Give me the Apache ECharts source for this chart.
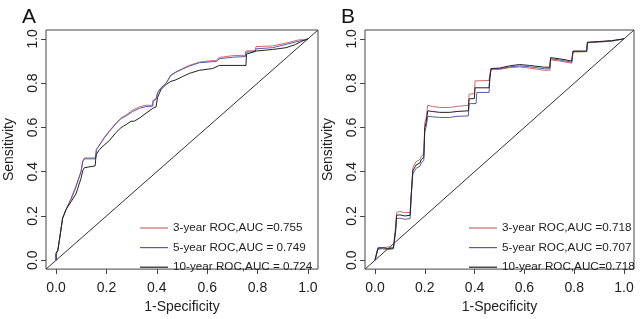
<!DOCTYPE html>
<html>
<head>
<meta charset="utf-8">
<script src="https://cdn.jsdelivr.net/npm/echarts@6/dist/echarts.min.js"></script>
<style>html,body{margin:0;padding:0;background:#fff}#c{width:640px;height:319px}</style>
</head>
<body>
<div id="c"></div>
<script>
// ---------- data ----------
const tickValues = [0, 0.2, 0.4, 0.6, 0.8, 1.0];
const tickLabels = ['0.0', '0.2', '0.4', '0.6', '0.8', '1.0'];
const diagonal = [[-0.04, -0.04], [1.04, 1.04]];

const namesA = ['3-year ROC,AUC =0.755', '5-year ROC,AUC = 0.749', '10-year ROC,AUC = 0.724'];
const namesB = ['3-year ROC,AUC =0.718', '5-year ROC,AUC =0.707', '10-year ROC,AUC=0.718'];

const rocA3 = [[0,0],[0,0.03],[0.007,0.045],[0.013,0.09],[0.026,0.19],[0.04,0.23],[0.06,0.275],[0.079,0.33],[0.099,0.40],[0.106,0.45],[0.112,0.462],[0.155,0.462],[0.159,0.47],[0.16,0.50],[0.172,0.52],[0.192,0.556],[0.212,0.585],[0.238,0.62],[0.258,0.642],[0.278,0.656],[0.304,0.678],[0.331,0.693],[0.357,0.70],[0.384,0.70],[0.385,0.722],[0.397,0.729],[0.403,0.758],[0.417,0.78],[0.437,0.80],[0.456,0.837],[0.476,0.851],[0.503,0.866],[0.529,0.88],[0.569,0.895],[0.622,0.902],[0.635,0.902],[0.648,0.916],[0.701,0.924],[0.752,0.926],[0.754,0.945],[0.79,0.947],[0.794,0.965],[0.86,0.968],[0.913,0.981],[0.966,0.996],[0.986,0.996],[1,1]];
const rocA5 = [[0,0],[0,0.03],[0.007,0.045],[0.013,0.09],[0.026,0.19],[0.04,0.23],[0.06,0.28],[0.079,0.335],[0.099,0.40],[0.106,0.445],[0.112,0.458],[0.155,0.458],[0.159,0.47],[0.16,0.50],[0.172,0.52],[0.192,0.553],[0.212,0.582],[0.238,0.617],[0.258,0.64],[0.278,0.652],[0.304,0.672],[0.331,0.686],[0.357,0.694],[0.384,0.696],[0.385,0.72],[0.397,0.727],[0.403,0.755],[0.417,0.778],[0.437,0.80],[0.456,0.835],[0.476,0.849],[0.503,0.864],[0.529,0.877],[0.569,0.892],[0.622,0.897],[0.635,0.897],[0.648,0.91],[0.701,0.917],[0.752,0.92],[0.754,0.94],[0.79,0.942],[0.794,0.955],[0.86,0.96],[0.913,0.975],[0.966,0.99],[0.986,0.994],[1,1]];
const rocA10 = [[0,0],[0,0.03],[0.007,0.045],[0.013,0.09],[0.026,0.19],[0.04,0.23],[0.06,0.265],[0.079,0.30],[0.099,0.37],[0.106,0.405],[0.112,0.418],[0.155,0.426],[0.159,0.476],[0.172,0.50],[0.19,0.519],[0.212,0.541],[0.238,0.577],[0.258,0.599],[0.278,0.613],[0.298,0.628],[0.31,0.628],[0.331,0.642],[0.357,0.664],[0.384,0.686],[0.397,0.693],[0.403,0.736],[0.417,0.772],[0.437,0.794],[0.456,0.808],[0.476,0.815],[0.503,0.83],[0.529,0.844],[0.569,0.858],[0.622,0.866],[0.648,0.88],[0.74,0.88],[0.754,0.88],[0.756,0.931],[0.794,0.945],[0.86,0.952],[0.913,0.96],[0.95,0.974],[0.975,0.989],[1,1]];

const rocB3 = [[0,0],[0.008,0.005],[0.012,0.058],[0.03,0.055],[0.05,0.06],[0.074,0.058],[0.078,0.1],[0.083,0.15],[0.087,0.216],[0.1,0.22],[0.12,0.215],[0.141,0.216],[0.146,0.3],[0.152,0.418],[0.16,0.42],[0.165,0.445],[0.181,0.455],[0.186,0.47],[0.196,0.48],[0.2,0.62],[0.205,0.64],[0.212,0.70],[0.23,0.695],[0.26,0.69],[0.3,0.69],[0.33,0.695],[0.375,0.70],[0.378,0.75],[0.399,0.752],[0.402,0.81],[0.458,0.812],[0.461,0.84],[0.466,0.862],[0.5,0.862],[0.54,0.87],[0.58,0.873],[0.62,0.868],[0.68,0.858],[0.702,0.858],[0.705,0.905],[0.74,0.9],[0.79,0.89],[0.795,0.94],[0.85,0.942],[0.853,0.982],[0.9,0.985],[0.95,0.99],[1,1]];
const rocB5 = [[0,0],[0.008,0.005],[0.012,0.05],[0.03,0.052],[0.05,0.048],[0.074,0.052],[0.078,0.085],[0.083,0.13],[0.087,0.188],[0.1,0.19],[0.12,0.185],[0.141,0.188],[0.146,0.3],[0.152,0.39],[0.16,0.395],[0.165,0.415],[0.181,0.425],[0.186,0.44],[0.196,0.45],[0.2,0.58],[0.205,0.60],[0.212,0.65],[0.23,0.648],[0.26,0.645],[0.3,0.645],[0.33,0.65],[0.375,0.652],[0.378,0.707],[0.406,0.708],[0.409,0.758],[0.458,0.758],[0.461,0.82],[0.466,0.866],[0.5,0.865],[0.54,0.873],[0.58,0.878],[0.62,0.874],[0.68,0.865],[0.702,0.865],[0.705,0.91],[0.74,0.905],[0.79,0.895],[0.795,0.943],[0.85,0.943],[0.853,0.983],[0.9,0.987],[0.95,0.99],[1,1]];
const rocB10 = [[0,0],[0.008,0.005],[0.012,0.054],[0.03,0.057],[0.05,0.053],[0.074,0.055],[0.078,0.09],[0.083,0.14],[0.087,0.203],[0.1,0.205],[0.12,0.2],[0.141,0.203],[0.146,0.3],[0.152,0.404],[0.16,0.41],[0.165,0.43],[0.181,0.44],[0.186,0.455],[0.196,0.465],[0.2,0.6],[0.205,0.62],[0.212,0.675],[0.23,0.672],[0.26,0.668],[0.3,0.668],[0.33,0.672],[0.375,0.675],[0.378,0.729],[0.399,0.73],[0.402,0.779],[0.458,0.779],[0.461,0.82],[0.466,0.866],[0.5,0.868],[0.54,0.878],[0.58,0.884],[0.62,0.88],[0.68,0.872],[0.702,0.872],[0.705,0.915],[0.74,0.91],[0.79,0.9],[0.795,0.945],[0.85,0.945],[0.853,0.985],[0.9,0.988],[0.95,0.992],[1,1]];

// ---------- styles ----------
const FONT = "'Liberation Sans', Arial, sans-serif";
const colors = ['#d06a6a', '#5a5aaa', '#222222'];

const chart = echarts.init(document.getElementById('c'), null, {renderer: 'canvas'});

function fmt(v) {
  const i = tickValues.findIndex(t => Math.abs(t - v) < 1e-9);
  return i >= 0 ? tickLabels[i] : '';
}

function xAxis(gi) {
  return {
    type: 'value', gridIndex: gi, min: -0.04, max: 1.04,
    name: '1-Specificity', nameLocation: 'middle', nameGap: 21,
    nameTextStyle: {fontFamily: FONT, fontSize: 14, color: '#222'},
    axisLine: {show: false, onZero: false},
    splitLine: {show: false},
    axisTick: {show: true, inside: false, length: 5, customValues: tickValues, lineStyle: {color: '#444', width: 1}},
    axisLabel: {customValues: tickValues, formatter: fmt, margin: 12, fontFamily: FONT, fontSize: 14, color: '#222'}
  };
}
function yAxis(gi) {
  return {
    type: 'value', gridIndex: gi, min: -0.04, max: 1.04,
    name: 'Sensitivity', nameLocation: 'middle', nameGap: 30,
    nameTextStyle: {fontFamily: FONT, fontSize: 14, color: '#222'},
    axisLine: {show: false, onZero: false},
    splitLine: {show: false},
    axisTick: {show: true, inside: false, length: 5, customValues: tickValues, lineStyle: {color: '#444', width: 1}},
    axisLabel: {customValues: tickValues, formatter: fmt, rotate: 90, margin: 6, fontFamily: FONT, fontSize: 14, color: '#222'}
  };
}
function curve(name, data, gi, ci) {
  return {
    type: 'line', name, data, xAxisIndex: gi, yAxisIndex: gi,
    symbol: 'none', animation: false,
    lineStyle: {color: colors[ci], width: 1}, itemStyle: {color: colors[ci]}
  };
}
function diag(gi) {
  return {
    type: 'line', data: diagonal, xAxisIndex: gi, yAxisIndex: gi,
    symbol: 'none', silent: true, animation: false,
    lineStyle: {color: '#333', width: 1}
  };
}
function legend(names, left) {
  return {
    show: true,
    data: names, orient: 'vertical', left: left, top: 217,
    icon: 'rect', itemWidth: 28, itemHeight: 1.2, itemGap: 7.6, selectedMode: false,
    textStyle: {fontFamily: FONT, fontSize: 11.7, color: '#222'}
  };
}

const option = {
  backgroundColor: '#fff',
  animation: false,
  title: [
    {text: 'A', left: 17, top: 2, textStyle: {fontFamily: FONT, fontSize: 21, fontWeight: 'normal', color: '#111'}},
    {text: 'B', left: 336, top: 2, textStyle: {fontFamily: FONT, fontSize: 21, fontWeight: 'normal', color: '#111'}}
  ],
  grid: [
    {left: 46, top: 30, width: 272, height: 249, show: true, borderColor: '#444', borderWidth: 1, backgroundColor: 'transparent'},
    {left: 365, top: 30, width: 269, height: 249, show: true, borderColor: '#444', borderWidth: 1, backgroundColor: 'transparent'}
  ],
  xAxis: [xAxis(0), xAxis(1)],
  yAxis: [yAxis(0), yAxis(1)],
  legend: [legend(namesA, 135), legend(namesB, 464)],
  series: [
    diag(0),
    curve(namesA[0], rocA3, 0, 0),
    curve(namesA[1], rocA5, 0, 1),
    curve(namesA[2], rocA10, 0, 2),
    diag(1),
    curve(namesB[0], rocB3, 1, 0),
    curve(namesB[1], rocB5, 1, 1),
    curve(namesB[2], rocB10, 1, 2)
  ]
};
chart.setOption(option);
</script>
</body>
</html>
